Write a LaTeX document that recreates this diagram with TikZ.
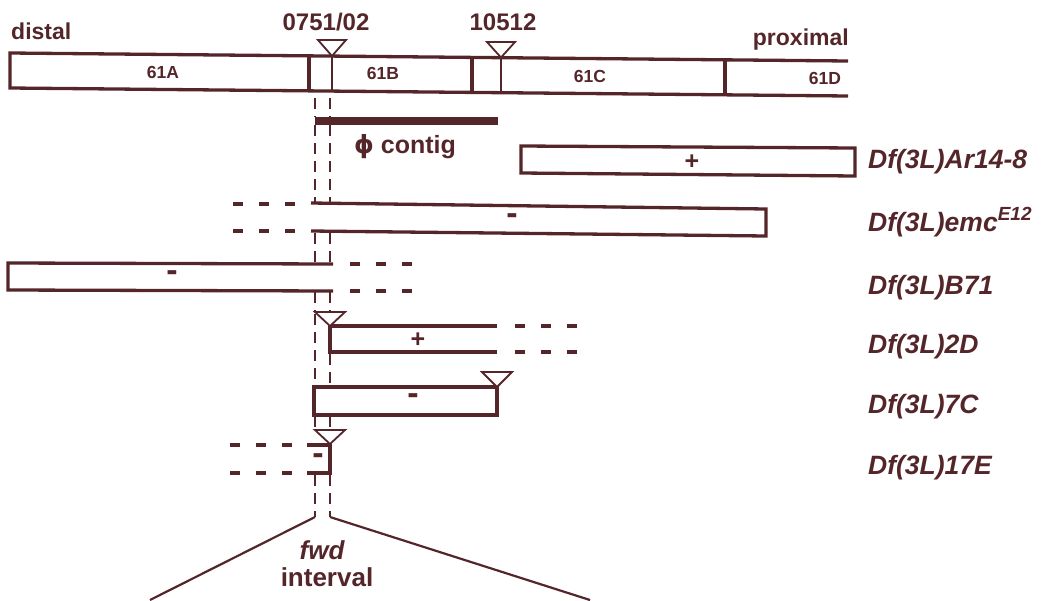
\documentclass[tikz,border=0pt]{standalone}
\usepackage{fontspec}
\setmainfont{Liberation Sans}
\newfontfamily\dejavu{DejaVu Sans}
\definecolor{ink}{RGB}{84,38,42}
\begin{document}
\begin{tikzpicture}[x=1pt,y=-1pt,line join=miter,
  box/.style={line width=3.3pt, draw=ink},
  thinl/.style={line width=1.6pt, draw=ink},
  vdash/.style={line width=2.2pt, draw=ink, dash pattern=on 11pt off 7pt},
  hdash/.style={line width=3.4pt, draw=ink, dash pattern=on 10pt off 16pt},
  fan/.style={line width=2.2pt, draw=ink},
  tri/.style={line width=1.8pt, draw=ink, fill=white},
  lbl/.style={font=\fontsize{26.5}{28}\selectfont\bfseries\itshape, anchor=west, text=ink, inner sep=0pt},
  top/.style={font=\fontsize{24}{28}\selectfont\bfseries, text=ink, inner sep=0pt},
  band/.style={font=\fontsize{17.5}{20}\selectfont\bfseries, text=ink, inner sep=0pt},
  sign/.style={font=\fontsize{25}{26}\selectfont\bfseries, text=ink, inner sep=0pt},
  minus/.style={font=\fontsize{34}{34}\selectfont\bfseries, text=ink, inner sep=0pt}
]
\useasboundingbox (0,0) rectangle (1057,600);

% chromosome map
\draw[box] (848,61) -- (10,53) -- (10,88) -- (848,96);
\draw[box] (309,55.9) -- (309,90.9);
\draw[box] (472,57.4) -- (472,92.4);
\draw[box] (725,59.8) -- (725,94.8);
\draw[thinl] (332,56.1) -- (332,91.1);
\draw[thinl] (501,57.7) -- (501,92.7);
\draw[tri] (332,56) -- (318,40) -- (346,40) -- cycle;
\draw[tri] (501,57.5) -- (487,42) -- (515,42) -- cycle;

\node[top] (ins1) at (326,22) {0751/02};
\node[top] (ins2) at (503,22) {10512};
\node[top, font=\fontsize{23}{26}\selectfont\bfseries, anchor=west] (distal) at (11,31) {distal};
\node[top, font=\fontsize{23}{26}\selectfont\bfseries, anchor=east] (prox) at (849,40) {proximal};
\node[band] (b61A) at (163,72) {61A};
\node[band] (b61B) at (383,73) {61B};
\node[band] (b61C) at (590,76) {61C};
\node[band] (b61D) at (825,78) {61D};

% phage contig
\draw[line width=7.5pt, ink] (315,121) -- (498,121);
\node[top, font=\fontsize{25}{28}\selectfont\bfseries] (contig) at (405,147) {{\dejavu\bfseries ϕ} contig};

% vertical dashed interval lines
\foreach \x in {315,330} {
  \draw[vdash] (\x,98) -- (\x,117);
  \draw[vdash] (\x,125) -- (\x,203);
  \draw[vdash] (\x,233) -- (\x,263);
  \draw[vdash] (\x,292) -- (\x,312);
  \draw[vdash] (\x,416) -- (\x,430);
  \draw[vdash] (\x,475) -- (\x,517);
}
\draw[vdash] (315,314) -- (315,387);
\draw[vdash] (330,354) -- (330,387);

% fwd interval fan
\coordinate (fl) at (315,517);
\coordinate (fr) at (330,517);
\coordinate (el) at (150,600);
\coordinate (er) at (590,600);
\draw[fan] (fl) -- (el);
\draw[fan] (fr) -- (er);
\node[top, font=\fontsize{26}{28}\selectfont\bfseries\itshape] (fwd) at (322,550) {fwd};
\node[top, font=\fontsize{26}{28}\selectfont\bfseries] (intv) at (327,577) {interval};

% Df(3L)Ar14-8
\draw[box] (521,146) -- (855,148) -- (855,176) -- (521,173) -- cycle;
\node[sign] (pAr) at (692,162) {+};
\node[lbl] (lAr) at (868,162) {Df(3L)Ar14-8};

% Df(3L)emc E12
\draw[box] (311,203) -- (766,209) -- (766,236) -- (311,231);
\draw[hdash] (233,204) -- (302,204);
\draw[hdash] (233,231) -- (302,231);
\node[minus] (mEmc) at (512,219) {-};
\node[lbl] (lEmc) at (868,222) {Df(3L)emc\raisebox{11pt}{\fontsize{19}{20}\selectfont E12}};

% Df(3L)B71
\draw[box] (333,264) -- (8,263) -- (8,290) -- (333,291);
\draw[hdash] (350,264) -- (420,264);
\draw[hdash] (350,291) -- (420,291);
\node[minus] (mB71) at (172,276) {-};
\node[lbl] (lB71) at (868,288) {Df(3L)B71};

% Df(3L)2D
\draw[box] (497,326) -- (330,326) -- (330,352) -- (497,352);
\draw[tri] (330,326) -- (315,312) -- (345,312) -- cycle;
\draw[hdash] (515,326) -- (582,326);
\draw[hdash] (515,352) -- (582,352);
\node[sign] (p2D) at (418,340) {+};
\node[lbl] (l2D) at (868,347) {Df(3L)2D};

% Df(3L)7C
\draw[box] (314,387) rectangle (497,415);
\draw[tri] (497,387) -- (482,372) -- (512,372) -- cycle;
\node[minus] (m7C) at (413,399) {-};
\node[lbl] (l7C) at (868,407) {Df(3L)7C};

% Df(3L)17E
\draw[box] (307,445) -- (330,445) -- (330,473) -- (307,473);
\draw[tri] (330,444) -- (315,430) -- (345,430) -- cycle;
\draw[hdash] (230,445) -- (298,445);
\draw[hdash] (230,473) -- (298,473);
\node[minus] (m17E) at (318,459) {-};
\node[lbl] (l17E) at (868,468) {Df(3L)17E};
\end{tikzpicture}
\end{document}
